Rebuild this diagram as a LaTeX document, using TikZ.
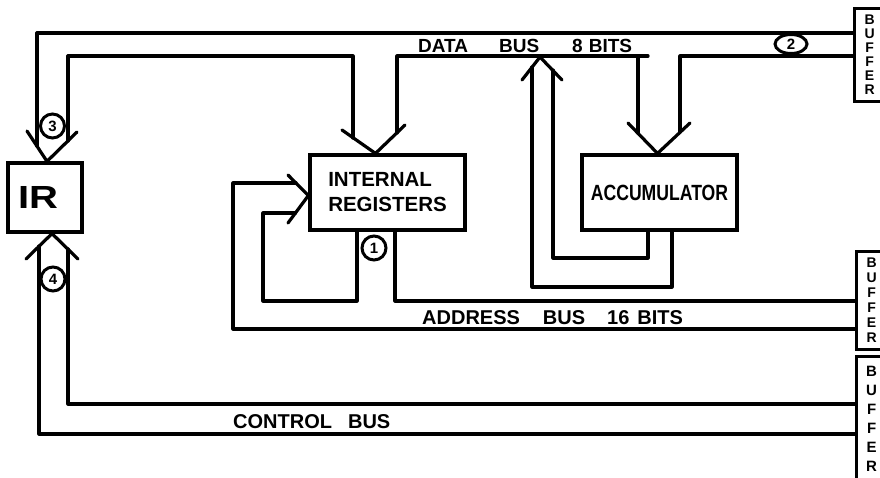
\documentclass[tikz,border=0pt]{standalone}
\usepackage{graphicx}
\usepackage{fontspec}
\setmainfont{Liberation Sans}
\usetikzlibrary{calc,shapes.geometric}
\begin{document}
\begin{tikzpicture}[x=1pt,y=-1pt,
  bus/.style={line width=3.2pt,line join=round,line cap=round},
  unit/.style={draw,line width=3.2pt,inner sep=0pt},
  buslabel/.style={anchor=base west,inner sep=0pt,font=\bfseries\fontsize{20}{24}\selectfont},
  num/.style={draw,circle,line width=3pt,fill=white,inner sep=0pt,minimum size=24pt,font=\bfseries\fontsize{15}{15}\selectfont},
  bufbox/.style={draw,line width=3.2pt,anchor=north west,minimum width=30pt,inner sep=0pt,align=center}]
\useasboundingbox (0,0) rectangle (880,477);
\clip (0,0) rectangle (880,477);
\fill[white] (0,0) rectangle (880,477);

% units
\node[unit,minimum width=74pt,minimum height=69pt,font=\bfseries\fontsize{32}{32}\selectfont] (IR) at (45,197.5) {\scalebox{1.25}[1]{IR}\hspace*{14pt}};
\node[unit,minimum width=155pt,minimum height=75pt,align=left,font=\bfseries\fontsize{20.5}{25}\selectfont] (IntReg) at (387.5,192.5) {INTERNAL\\REGISTERS};
\node[unit,minimum width=155pt,minimum height=75pt,font=\bfseries\fontsize{22}{22}\selectfont] (Acc) at (659.5,192.5) {\scalebox{0.8}[1]{ACCUMULATOR}};

% buffers
\node[bufbox,minimum height=93pt,font=\bfseries\fontsize{14}{14}\selectfont] (Buf1) at (853,7) {B\\U\\F\\F\\E\\R};
\node[bufbox,minimum height=98pt,font=\bfseries\fontsize{14}{15}\selectfont] (Buf2) at (855,250) {B\\U\\F\\F\\E\\R};
\node[bufbox,minimum height=125pt,font=\bfseries\fontsize{15}{19}\selectfont] (Buf3) at (855,355) {B\\U\\F\\F\\E\\R};

% ---------- data bus ----------
\draw[bus] (37,146) -- (37,33) -- (Buf1.west |- 0,33);
\draw[bus] (68,141) -- (68,56) -- (353,56) -- (353,138);
\draw[bus] (27,131) -- ($(IR.north)+(2,0)$) -- (77,132);
\draw[bus] (397,133) -- (397,56) -- (648,56);
\draw[bus] (342,130) -- ($(IntReg.north)+(-12,0)$) -- (405,125);
\draw[bus] (638,56) -- (638,133);
\draw[bus] (680,132) -- (680,56) -- (Buf1.west |- 0,56);
\draw[bus] (628,123) -- ($(Acc.north)+(-2,0)$) -- (690,123);
% accumulator back to data bus
\draw[bus] (672,0 |- Acc.south) -- (672,287) -- (532,287) -- (532,67);
\draw[bus] (648,0 |- Acc.south) -- (648,258) -- (553,258) -- (553,70);
\draw[bus] (522,80) -- (540,57) -- (562,80);

% ---------- address bus ----------
\draw[bus] (357,0 |- IntReg.south) -- (357,301) -- (263,301) -- (263,213) -- (295.5,213);
\draw[bus] (Buf2.west |- 0,329) -- (233,329) -- (233,183) -- (296,183);
\draw[bus] (288,175) -- ($(IntReg.west)+(0,3)$) -- (288,223);
\draw[bus] (395,0 |- IntReg.south) -- (395,301) -- (Buf2.west |- 0,301);

% ---------- control bus ----------
\draw[bus] (39,246) -- (39,434) -- (Buf3.west |- 0,434);
\draw[bus] (68,249) -- (68,404) -- (Buf3.west |- 0,404);
\draw[bus] (26,259) -- ($(IR.south)+(7,0)$) -- (78,259);

% labels
\node[buslabel,font=\bfseries\fontsize{19}{22}\selectfont] (dbl) at (418,52) {DATA\hspace{31pt}BUS\hspace{33pt}8\hspace{6pt}BITS};
\node[buslabel] (abl) at (422,324) {ADDRESS\hspace{23pt}BUS\hspace{22pt}16\hspace{8pt}BITS};
\node[buslabel] (cbl) at (233,428) {CONTROL\hspace{16pt}BUS};

% step numbers
\node[num] (n3) at (52.5,126) {3};
\node[num] (n4) at (53,279) {4};
\node[num] (n1) at (374,248) {1};
\node[num,ellipse,minimum width=32pt,minimum height=19pt] (n2) at (791,44) {2};
\end{tikzpicture}
\end{document}
